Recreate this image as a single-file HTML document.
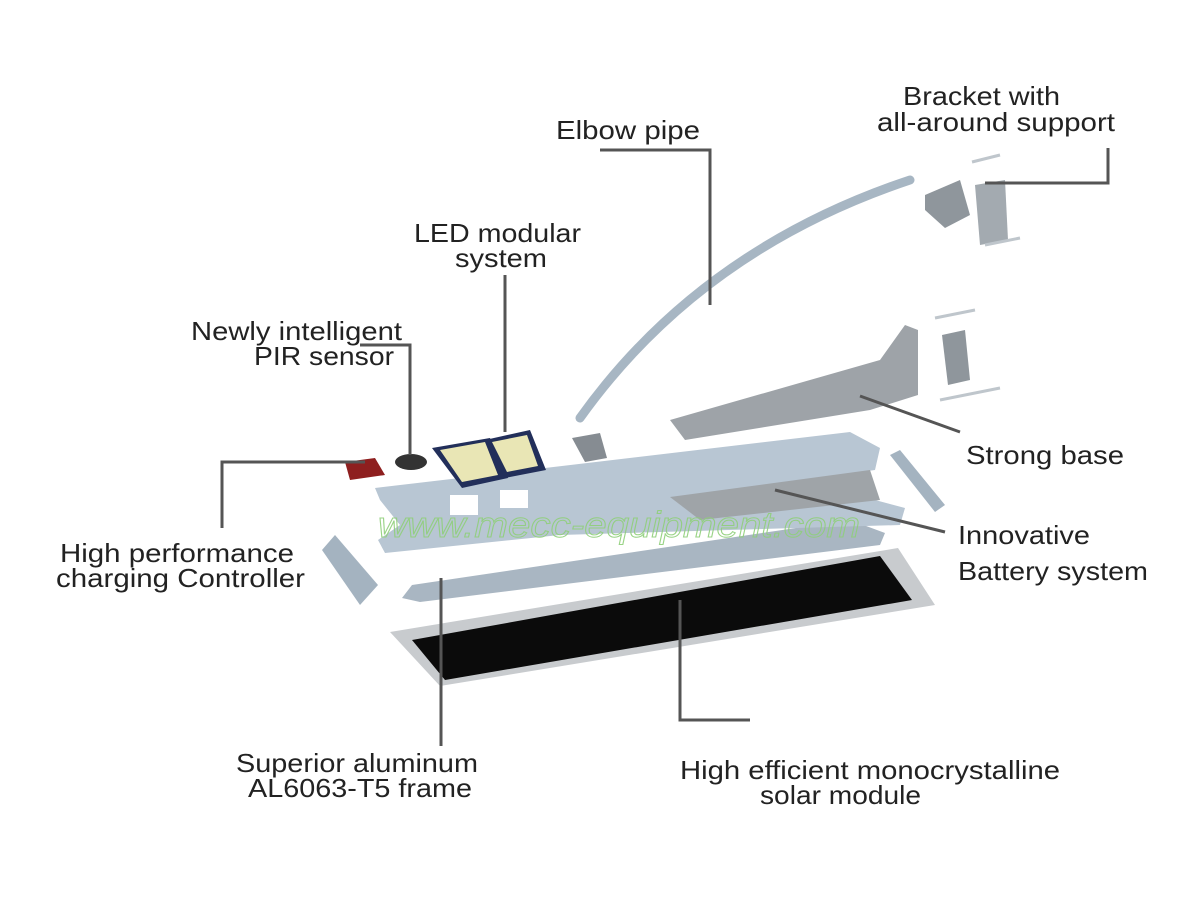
<!DOCTYPE html>
<html><head><meta charset="utf-8"><style>
html,body{margin:0;padding:0;background:#fff;}
svg{display:block}
text{font-family:"Liberation Sans",sans-serif;font-size:26px;fill:#222;}
</style></head><body>
<svg width="1200" height="900" viewBox="0 0 1200 900" xmlns="http://www.w3.org/2000/svg">
<rect width="1200" height="900" fill="#fff"/>
<!-- solar panel -->
<polygon points="390,632 898,548 935,605 440,686" fill="#c8cbce"/>
<polygon points="412,640 880,556 912,600 445,680" fill="#0b0b0b"/>
<!-- lower frame rail -->
<polygon points="402,598 412,585 850,520 885,533 880,545 420,602" fill="#a9b6c2"/>
<!-- end caps -->
<polygon points="322,550 335,535 378,585 360,605" fill="#a4b3c0"/>
<polygon points="890,455 900,450 945,505 935,512" fill="#a4b3c0"/>
<!-- main plate -->
<polygon points="375,488 850,432 880,448 875,470 800,480 905,508 900,525 560,535 385,553 378,540 400,525 380,500" fill="#b8c6d3"/>
<polygon points="670,497 870,470 880,500 700,520" fill="#9fa4a8"/>
<rect x="500" y="490" width="28" height="18" fill="#fff"/>
<rect x="450" y="495" width="28" height="20" fill="#fff"/>
<!-- strong base -->
<polygon points="670,420 880,360 905,325 918,330 918,395 870,410 685,440" fill="#9ea3a8"/>
<!-- elbow pipe -->
<path d="M580,418 Q700,250 910,180" stroke="#a7b6c3" stroke-width="9" fill="none" stroke-linecap="round"/>
<!-- bracket pieces -->
<polygon points="925,195 960,180 970,215 945,228 925,210" fill="#8f969c"/>
<polygon points="975,185 1005,180 1008,240 980,245" fill="#a3aab0"/>
<polygon points="942,335 965,330 970,380 948,385" fill="#8f969c"/>
<g stroke="#bfc6cc" stroke-width="3"><line x1="972" y1="162" x2="1000" y2="155"/><line x1="985" y1="245" x2="1020" y2="238"/><line x1="935" y1="318" x2="975" y2="310"/><line x1="940" y1="400" x2="1000" y2="388"/></g>
<!-- small parts -->
<polygon points="572,438 600,433 607,458 585,462" fill="#868c92"/>
<polygon points="345,462 375,458 385,475 350,480" fill="#8e1f1f"/>
<ellipse cx="411" cy="462" rx="16" ry="8" fill="#333"/>
<polygon points="432,448 490,438 508,478 462,488" fill="#222f5a"/>
<polygon points="440,450 485,442 498,475 462,482" fill="#e9e6b5"/>
<polygon points="485,440 530,430 546,470 505,478" fill="#222f5a"/>
<polygon points="492,442 527,435 538,466 507,472" fill="#e9e6b5"/>
<!-- watermark -->
<text x="378" y="537" style="font-size:36px;font-style:italic;fill:none;stroke:#8fcf7a;stroke-width:1;opacity:0.9" textLength="482" lengthAdjust="spacingAndGlyphs">www.mecc-equipment.com</text>
<!-- leader lines -->
<g stroke="#555" stroke-width="3" fill="none">
<polyline points="600,150 710,150 710,305"/>
<polyline points="1108,148 1108,183 985,183"/>
<line x1="505" y1="275" x2="505" y2="432"/>
<polyline points="360,345 410,345 410,455"/>
<polyline points="365,462 222,462 222,528"/>
<line x1="860" y1="396" x2="960" y2="432"/>
<line x1="775" y1="490" x2="945" y2="532"/>
<line x1="441" y1="578" x2="441" y2="746"/>
<polyline points="680,600 680,720 750,720"/>
</g>
<!-- labels -->
<g style="font-size:26px">
<text x="556" y="139" textLength="144" lengthAdjust="spacingAndGlyphs">Elbow pipe</text>
<text x="903" y="105" textLength="157" lengthAdjust="spacingAndGlyphs">Bracket with</text>
<text x="877" y="131" textLength="238" lengthAdjust="spacingAndGlyphs">all-around support</text>
<text x="414" y="242" textLength="167" lengthAdjust="spacingAndGlyphs">LED modular</text>
<text x="455" y="267" textLength="92" lengthAdjust="spacingAndGlyphs">system</text>
<text x="191" y="340" textLength="211" lengthAdjust="spacingAndGlyphs">Newly intelligent</text>
<text x="254" y="365" textLength="140" lengthAdjust="spacingAndGlyphs">PIR sensor</text>
<text x="966" y="464" textLength="158" lengthAdjust="spacingAndGlyphs">Strong base</text>
<text x="958" y="544" textLength="132" lengthAdjust="spacingAndGlyphs">Innovative</text>
<text x="958" y="580" textLength="190" lengthAdjust="spacingAndGlyphs">Battery system</text>
<text x="60" y="562" textLength="234" lengthAdjust="spacingAndGlyphs">High performance</text>
<text x="56" y="587" textLength="249" lengthAdjust="spacingAndGlyphs">charging Controller</text>
<text x="236" y="772" textLength="242" lengthAdjust="spacingAndGlyphs">Superior aluminum</text>
<text x="248" y="797" textLength="224" lengthAdjust="spacingAndGlyphs">AL6063-T5 frame</text>
<text x="680" y="779" textLength="380" lengthAdjust="spacingAndGlyphs">High efficient monocrystalline</text>
<text x="760" y="804" textLength="161" lengthAdjust="spacingAndGlyphs">solar module</text>
</g>
</svg>
</body></html>
